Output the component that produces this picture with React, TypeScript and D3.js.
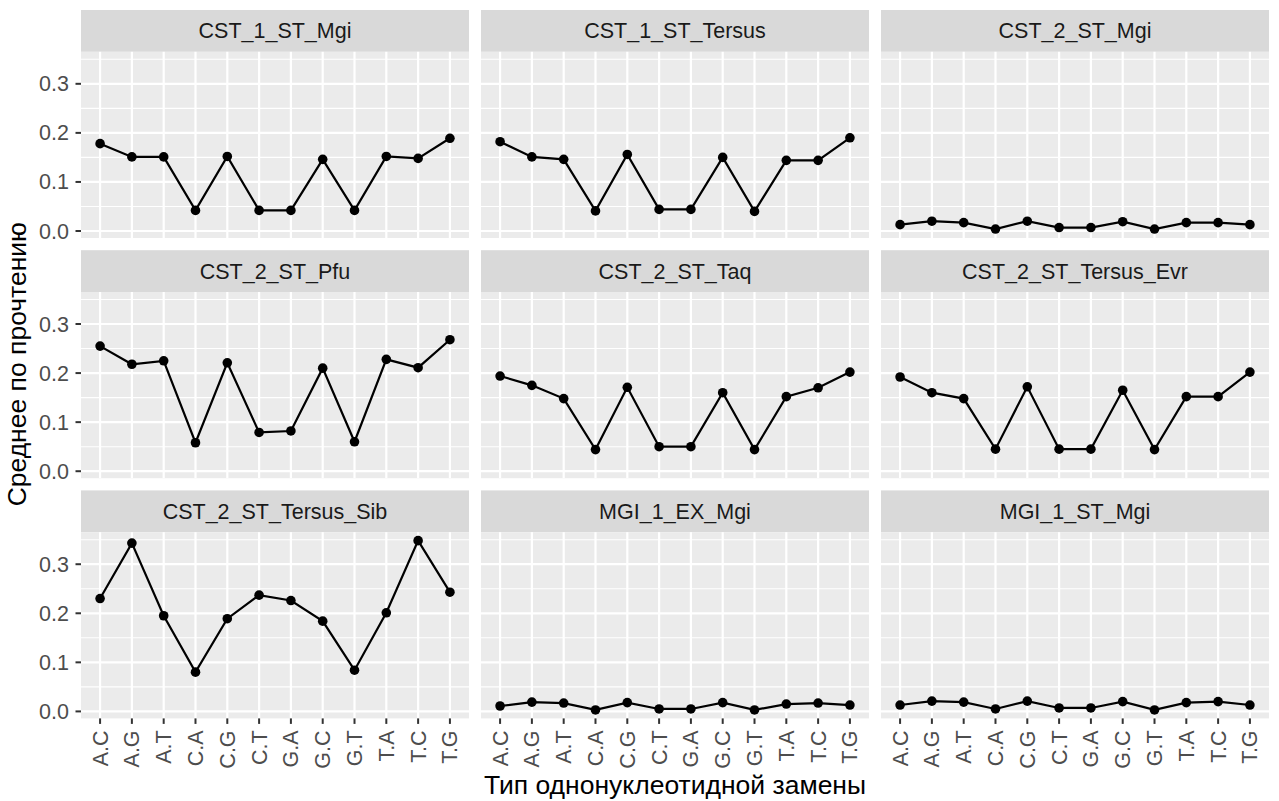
import React from "react";
import * as d3 from "d3";

const categories = ["A.C", "A.G", "A.T", "C.A", "C.G", "C.T", "G.A", "G.C", "G.T", "T.A", "T.C", "T.G"];

const panelNames = [
  "CST_1_ST_Mgi", "CST_1_ST_Tersus", "CST_2_ST_Mgi",
  "CST_2_ST_Pfu", "CST_2_ST_Taq", "CST_2_ST_Tersus_Evr",
  "CST_2_ST_Tersus_Sib", "MGI_1_EX_Mgi", "MGI_1_ST_Mgi",
];

const cst1Mgi = [0.178, 0.151, 0.151, 0.042, 0.152, 0.042, 0.042, 0.146, 0.042, 0.152, 0.148, 0.189];
const cst1Tersus = [0.182, 0.151, 0.146, 0.041, 0.156, 0.044, 0.044, 0.150, 0.040, 0.144, 0.144, 0.190];
const cst2Mgi = [0.013, 0.020, 0.017, 0.004, 0.020, 0.007, 0.007, 0.019, 0.004, 0.017, 0.017, 0.013];
const cst2Pfu = [0.255, 0.218, 0.225, 0.058, 0.221, 0.079, 0.082, 0.210, 0.060, 0.228, 0.211, 0.268];
const cst2Taq = [0.194, 0.175, 0.148, 0.044, 0.171, 0.050, 0.050, 0.160, 0.044, 0.152, 0.170, 0.202];
const cst2TersusEvr = [0.192, 0.160, 0.148, 0.045, 0.172, 0.045, 0.045, 0.165, 0.044, 0.152, 0.152, 0.202];
const cst2TersusSib = [0.230, 0.343, 0.195, 0.080, 0.189, 0.237, 0.226, 0.184, 0.084, 0.201, 0.348, 0.243];
const mgi1ExMgi = [0.011, 0.019, 0.017, 0.003, 0.018, 0.005, 0.005, 0.018, 0.003, 0.015, 0.017, 0.013];
const mgi1StMgi = [0.013, 0.021, 0.019, 0.005, 0.021, 0.007, 0.007, 0.020, 0.003, 0.018, 0.020, 0.013];

const seriesValues = [cst1Mgi, cst1Tersus, cst2Mgi, cst2Pfu, cst2Taq, cst2TersusEvr, cst2TersusSib, mgi1ExMgi, mgi1StMgi];

const yTicks = [0, 0.1, 0.2, 0.3];
const yMinor = [0.05, 0.15, 0.25, 0.35];
const yTitle = "Среднее по прочтению";
const xTitle = "Тип однонуклеотидной замены";

const W = 1279;
const H = 801;
const FONT = "'Liberation Sans', Arial, sans-serif";
const TICK_FS = 21.5;
const TITLE_FS = 26.5;

const colLeft = 81;
const colPitch = 400;
const panelW = 388;
const rowTop = 10;
const rowPitch = 240.2;
const stripH = 41.8;
const panelH = 186.2;

export default function App() {
  const all = seriesValues.flat();
  const [mn, mx] = d3.extent(all) as [number, number];
  const pad = (mx - mn) * 0.05;

  return (
    <svg width={W} height={H} style={{ position: "absolute", left: 0, top: 0, background: "#fff" }} fontFamily={FONT}>
      <rect x={0} y={0} width={W} height={H} fill="#fff" />
      {panelNames.map((name, i) => {
        const r = Math.floor(i / 3);
        const c = i % 3;
        const x0 = colLeft + c * colPitch;
        const sTop = rowTop + r * rowPitch;
        const pTop = sTop + stripH;
        const pBot = pTop + panelH;
        const x = d3.scalePoint<string>().domain(categories).range([x0, x0 + panelW]).padding(0.6);
        const y = d3.scaleLinear().domain([mn - pad, mx + pad]).range([pBot, pTop]);
        const vals = seriesValues[i];
        const line = d3
          .line<number>()
          .x((_, k) => x(categories[k]) as number)
          .y((v) => y(v));
        return (
          <g key={name}>
            <rect x={x0} y={sTop} width={panelW} height={stripH} fill="#D9D9D9" />
            <text x={x0 + panelW / 2} y={sTop + stripH / 2} dy="0.35em" textAnchor="middle" fontSize={TICK_FS} fill="#1A1A1A">
              {name}
            </text>
            <rect x={x0} y={pTop} width={panelW} height={panelH} fill="#EBEBEB" />
            {yMinor.map((t) => (
              <line key={"m" + t} x1={x0} x2={x0 + panelW} y1={y(t)} y2={y(t)} stroke="#fff" strokeWidth={1.1} />
            ))}
            {yTicks.map((t) => (
              <line key={"g" + t} x1={x0} x2={x0 + panelW} y1={y(t)} y2={y(t)} stroke="#fff" strokeWidth={2.2} />
            ))}
            {categories.map((cat) => (
              <line key={"v" + cat} x1={x(cat)} x2={x(cat)} y1={pTop} y2={pBot} stroke="#fff" strokeWidth={2.2} />
            ))}
            <path d={line(vals) || ""} fill="none" stroke="#000" strokeWidth={2.2} />
            {vals.map((v, k) => (
              <circle key={"p" + k} cx={x(categories[k])} cy={y(v)} r={4.8} fill="#000" />
            ))}
            {c === 0 &&
              yTicks.map((t) => (
                <g key={"yt" + t}>
                  <line x1={x0 - 5.5} x2={x0} y1={y(t)} y2={y(t)} stroke="#333333" strokeWidth={2} />
                  <text x={x0 - 12} y={y(t)} dy="0.35em" textAnchor="end" fontSize={TICK_FS} fill="#4D4D4D">
                    {t.toFixed(1)}
                  </text>
                </g>
              ))}
            {r === 2 &&
              categories.map((cat) => (
                <g key={"xt" + cat}>
                  <line x1={x(cat)} x2={x(cat)} y1={pBot} y2={pBot + 5.5} stroke="#333333" strokeWidth={2} />
                  <text
                    transform={`translate(${x(cat)},${pBot + 12}) rotate(-90)`}
                    dy="0.35em"
                    textAnchor="end"
                    fontSize={TICK_FS}
                    fill="#4D4D4D"
                  >
                    {cat}
                  </text>
                </g>
              ))}
          </g>
        );
      })}
      <text x={colLeft + (2 * colPitch + panelW) / 2} y={794} textAnchor="middle" fontSize={TITLE_FS} fill="#000">
        {xTitle}
      </text>
      <text
        transform={`translate(26,${(rowTop + rowTop + 2 * rowPitch + stripH + panelH) / 2}) rotate(-90)`}
        textAnchor="middle"
        fontSize={TITLE_FS}
        fill="#000"
      >
        {yTitle}
      </text>
    </svg>
  );
}
